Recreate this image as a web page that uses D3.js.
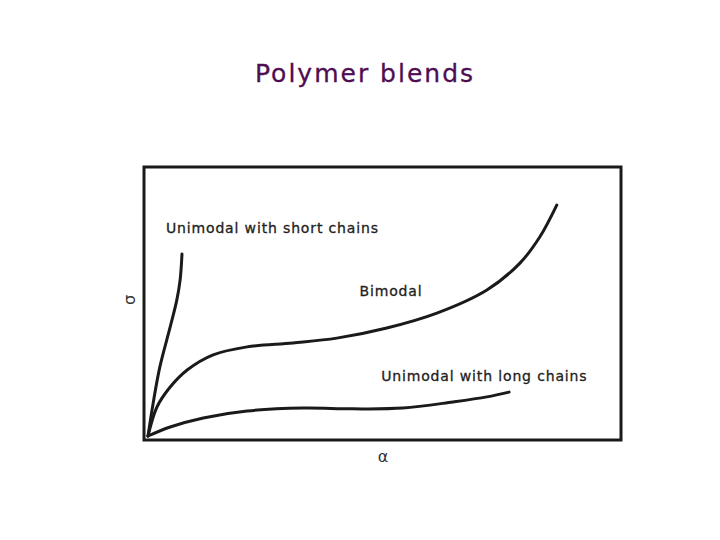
<!DOCTYPE html>
<html>
<head>
<meta charset="utf-8">
<script src="https://cdn.jsdelivr.net/npm/d3@7"></script>
<style>
  html, body { margin: 0; padding: 0; background: #fff; }
</style>
</head>
<body>
<svg id="stage"></svg>
<script>
/* ---------- data (arbitrary units) ---------- */

const short_x = [0, 1.1, 2.5, 4.7, 6.1, 6.8, 7.2];
const short_y = [0, 12.4, 25.9, 41.0, 51.1, 58.6, 68.4];

const bimodal_x = [0, 1.9, 4.7, 8.3, 13.8, 21.0, 30.7, 40.0, 50.6, 61.2, 71.8, 78.8, 83.0, 86.6];
const bimodal_y = [0, 10.9, 18.4, 24.8, 30.5, 33.5, 35.0, 36.8, 40.6, 46.2, 54.9, 65.0, 74.8, 86.8];

const long_x = [0, 4.7, 11.7, 21.0, 32.8, 43.4, 54.0, 64.6, 71.8, 76.5];
const long_y = [0, 3.4, 6.8, 9.4, 10.5, 10.2, 10.5, 12.8, 14.7, 16.5];

const curve_labels = ["Unimodal with short chains", "Bimodal", "Unimodal with long chains"];
const label_x = [3.8, 44.8, 49.4];
const label_y = [76.5, 52.5, 20.8];

/* ---------- setup ---------- */

const width = 720;
const height = 540;

const svg = d3.select("#stage")
  .attr("width", width)
  .attr("height", height);

const x = d3.scaleLinear().domain([0, 100]).range([148, 620]);
const y = d3.scaleLinear().domain([0, 100]).range([436, 170]);

const zip = (xs, ys) => xs.map((v, i) => [v, ys[i]]);

const line = d3.line()
  .x(d => x(d[0]))
  .y(d => y(d[1]))
  .curve(d3.curveCatmullRom.alpha(0.5));

/* ---------- title ---------- */

svg.append("text")
  .attr("x", 365)
  .attr("y", 82)
  .attr("text-anchor", "middle")
  .attr("font-family", "'Comic Sans MS', 'DejaVu Sans', sans-serif")
  .attr("font-size", 25)
  .attr("letter-spacing", 2)
  .attr("fill", "#4f0d52")
  .attr("stroke", "#4f0d52")
  .attr("stroke-width", 0.3)
  .text("Polymer blends");

/* ---------- frame ---------- */

svg.append("rect")
  .attr("x", 144)
  .attr("y", 167)
  .attr("width", 477)
  .attr("height", 273)
  .attr("fill", "none")
  .attr("stroke", "#1a1a1a")
  .attr("stroke-width", 3);

/* ---------- curves ---------- */

[zip(short_x, short_y), zip(bimodal_x, bimodal_y), zip(long_x, long_y)].forEach(pts => {
  svg.append("path")
    .attr("d", line(pts))
    .attr("fill", "none")
    .attr("stroke", "#1a1a1a")
    .attr("stroke-width", 3)
    .attr("stroke-linecap", "round");
});

/* ---------- labels ---------- */

svg.selectAll("text.curve-label")
  .data(curve_labels)
  .join("text")
  .attr("class", "curve-label")
  .attr("x", (d, i) => x(label_x[i]))
  .attr("y", (d, i) => y(label_y[i]))
  .attr("font-family", "'DejaVu Sans', sans-serif")
  .attr("font-size", 14)
  .attr("letter-spacing", 0.85)
  .attr("fill", "#222")
  .attr("stroke", "#222")
  .attr("stroke-width", 0.3)
  .text(d => d);

// axis symbols
svg.append("text")
  .attr("transform", "translate(135, 300) rotate(-90)")
  .attr("text-anchor", "middle")
  .attr("font-family", "'DejaVu Sans', sans-serif")
  .attr("font-size", 16)
  .attr("fill", "#333")
  .text("σ");

svg.append("text")
  .attr("x", 383)
  .attr("y", 462)
  .attr("text-anchor", "middle")
  .attr("font-family", "'DejaVu Sans', sans-serif")
  .attr("font-size", 16)
  .attr("fill", "#333")
  .text("α");
</script>
</body>
</html>
